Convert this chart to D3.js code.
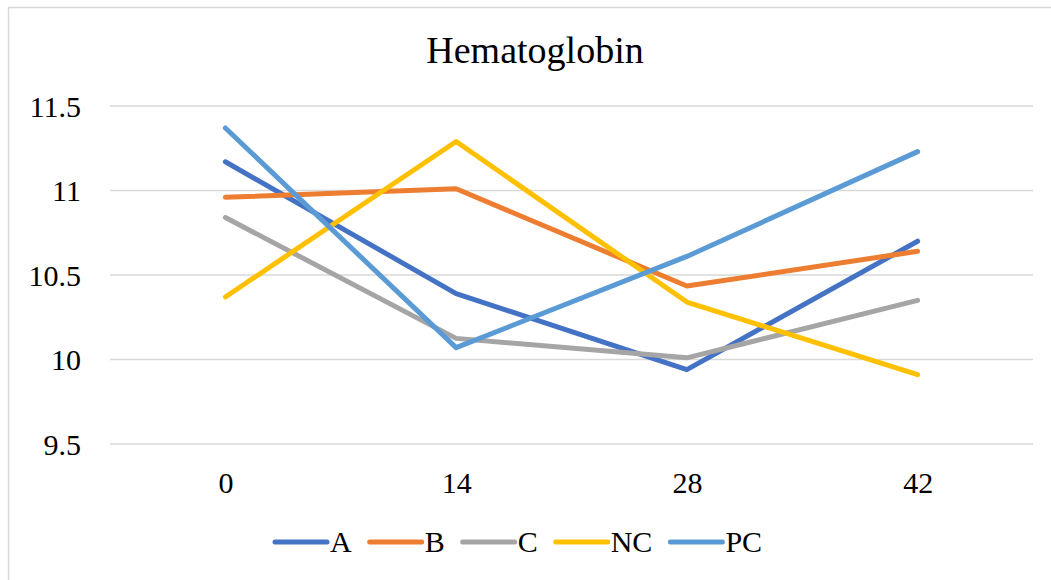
<!DOCTYPE html>
<html>
<head>
<meta charset="utf-8">
<script src="https://cdn.jsdelivr.net/npm/d3@7"></script>
<style>
  html, body { margin: 0; padding: 0; background: #fff; }
  svg { display: block; font-family: "Liberation Serif", "Times New Roman", serif; }
</style>
</head>
<body>
<svg id="chart" width="1051" height="580"></svg>
<script>
// Sampling days (category axis)
const days = ["0", "14", "28", "42"];
// Hemoglobin readings per group
const seriesA  = [11.17, 10.39, 9.94, 10.70];
const seriesB  = [10.96, 11.01, 10.435, 10.64];
const seriesC  = [10.84, 10.125, 10.01, 10.35];
const seriesNC = [10.37, 11.29, 10.34, 9.91];
const seriesPC = [11.37, 10.07, 10.61, 11.23];
const seriesNames = ["A", "B", "C", "NC", "PC"];
const seriesColors = ["#4472C4", "#ED7D31", "#A5A5A5", "#FFC000", "#5B9BD5"];
const yTicks = [9.5, 10, 10.5, 11, 11.5];
const yTickLabels = ["9.5", "10", "10.5", "11", "11.5"];

const series = [seriesA, seriesB, seriesC, seriesNC, seriesPC].map((vals, i) => ({
  name: seriesNames[i], color: seriesColors[i], values: vals
}));

const svg = d3.select("#chart");
const plot = { left: 110, right: 1033, top: 106, bottom: 444 };

// Chart frame
svg.append("rect")
  .attr("x", 8.5).attr("y", 7.5)
  .attr("width", 1100).attr("height", 700)
  .attr("fill", "none").attr("stroke", "#d9d9d9").attr("stroke-width", 1.5);

// Title
svg.append("text")
  .attr("x", 535).attr("y", 63)
  .attr("text-anchor", "middle")
  .attr("font-size", 38).attr("fill", "#000")
  .text("Hematoglobin");

const x = d3.scalePoint().domain(days).range([plot.left, plot.right]).padding(0.5);
const y = d3.scaleLinear().domain([9.5, 11.5]).range([plot.bottom, plot.top]);

// Horizontal gridlines
svg.append("g")
  .selectAll("line")
  .data(yTicks)
  .join("line")
  .attr("x1", plot.left).attr("x2", plot.right)
  .attr("y1", d => y(d)).attr("y2", d => y(d))
  .attr("stroke", "#d9d9d9").attr("stroke-width", 1.5);

// Y axis labels
const yAxis = d3.axisLeft(y).tickValues(yTicks)
  .tickFormat((d, i) => yTickLabels[i]).tickSize(0).tickPadding(0);
const gy = svg.append("g").attr("transform", "translate(81,0)").call(yAxis);
gy.select(".domain").remove();
gy.selectAll("text")
  .attr("font-family", "Liberation Serif, Times New Roman, serif")
  .attr("font-size", 30).attr("fill", "#000").attr("dy", "0.34em");

// X axis labels
const xAxis = d3.axisBottom(x).tickSize(0).tickPadding(0);
const gx = svg.append("g").attr("transform", "translate(0,472)").call(xAxis);
gx.select(".domain").remove();
gx.selectAll("text")
  .attr("font-family", "Liberation Serif, Times New Roman, serif")
  .attr("font-size", 30).attr("fill", "#000").attr("dy", "0.7em");

// Series lines
const line = d3.line().x((d, i) => x(days[i])).y(d => y(d));
svg.append("g")
  .selectAll("path")
  .data(series)
  .join("path")
  .attr("d", d => line(d.values))
  .attr("fill", "none")
  .attr("stroke", d => d.color)
  .attr("stroke-width", 5)
  .attr("stroke-linecap", "round")
  .attr("stroke-linejoin", "round");

// Legend
const legend = svg.append("g");
let lx = 275;
const ly = 542;
series.forEach(s => {
  legend.append("line")
    .attr("x1", lx).attr("x2", lx + 52)
    .attr("y1", ly).attr("y2", ly)
    .attr("stroke", s.color).attr("stroke-width", 5)
    .attr("stroke-linecap", "round");
  const t = legend.append("text")
    .attr("x", lx + 55).attr("y", ly + 10)
    .attr("font-size", 30).attr("fill", "#000")
    .text(s.name);
  lx += 55 + t.node().getComputedTextLength() + 18;
});
</script>
</body>
</html>
